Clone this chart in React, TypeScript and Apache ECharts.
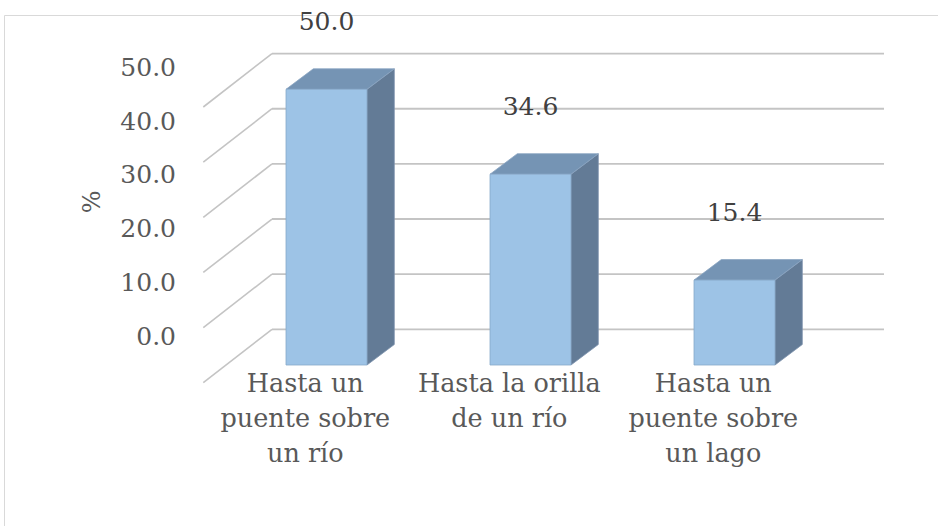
import React, { useEffect, useRef } from "react";
import * as echarts from "echarts";

const categories = [
  "Hasta un\npuente sobre\nun río",
  "Hasta la orilla\nde un río",
  "Hasta un\npuente sobre\nun lago",
];
const values = [50.0, 34.6, 15.4];
const yTicks = [0, 10, 20, 30, 40, 50];

const FONT = "'DejaVu Serif', serif";
// 3D projection offsets (pixels)
const DXB = 47.5; // front plane -> back wall
const DYB = -35.7;
const DXF = -21.2; // front plane -> floor front edge
const DYF = 17.7;
const BDX = 27.3; // bar depth
const BDY = -20.5;

export default function App() {
  const ref = useRef<HTMLDivElement>(null);
  useEffect(() => {
    if (!ref.current) return;
    const chart = echarts.init(ref.current, null, { renderer: "svg" });
    const gridStroke = "#c4c4c4";
    chart.setOption({
      animation: false,
      backgroundColor: "#ffffff",
      textStyle: { fontFamily: FONT },
      graphic: [
        {
          type: "rect",
          z: -10,
          shape: { x: 4.5, y: 15.5, width: 1000, height: 600 },
          style: { fill: "none", stroke: "#d9d9d9", lineWidth: 1 },
        },
      ],
      grid: [
        { left: 224.5, width: 612, top: 89.3, bottom: 161 },
        { left: 184, width: 10, top: 67.5, height: 268.5 },
        { left: 203.3, width: 612, top: 89.3, bottom: 161 },
      ],
      xAxis: [
        {
          gridIndex: 0,
          type: "category",
          data: categories,
          axisLine: { show: false },
          axisTick: { show: false },
          axisLabel: { show: false },
        },
        { gridIndex: 1, type: "value", show: false },
        {
          gridIndex: 2,
          type: "category",
          data: categories,
          axisLine: { show: false },
          axisTick: { show: false },
          axisLabel: {
            interval: 0,
            margin: 0,
            fontFamily: FONT,
            fontSize: 25.5,
            lineHeight: 35,
            color: "#595959",
          },
        },
      ],
      yAxis: [
        {
          gridIndex: 0,
          type: "value",
          min: 0,
          max: 50,
          interval: 10,
          axisLine: { show: false },
          axisTick: { show: false },
          axisLabel: { show: false },
          splitLine: { show: false },
        },
        {
          gridIndex: 1,
          type: "value",
          min: 0,
          max: 50,
          interval: 10,
          name: "%",
          nameLocation: "middle",
          nameRotate: 90,
          nameGap: 80,
          nameTextStyle: { fontFamily: FONT, fontSize: 24, color: "#595959" },
          axisLine: { show: false },
          axisTick: { show: false },
          splitLine: { show: false },
          axisLabel: {
            margin: 8,
            fontFamily: FONT,
            fontSize: 25,
            color: "#595959",
            formatter: (v: number) => v.toFixed(1),
          },
        },
        { gridIndex: 2, type: "value", min: 0, max: 50, show: false },
      ],
      series: [
        {
          type: "custom",
          xAxisIndex: 0,
          yAxisIndex: 0,
          z: 1,
          silent: true,
          data: yTicks.map((t) => [0, t]),
          renderItem: (params: any, api: any) => {
            const cs = params.coordSys;
            const y = api.coord([0, api.value(1)])[1];
            return {
              type: "group",
              children: [
                {
                  type: "line",
                  shape: {
                    x1: cs.x + DXB,
                    y1: y + DYB,
                    x2: cs.x + cs.width + DXB,
                    y2: y + DYB,
                  },
                  style: { stroke: gridStroke, lineWidth: 1.8 },
                },
                {
                  type: "line",
                  shape: {
                    x1: cs.x + DXF,
                    y1: y + DYF,
                    x2: cs.x + DXB,
                    y2: y + DYB,
                  },
                  style: { stroke: gridStroke, lineWidth: 1.6 },
                },
              ],
            };
          },
        },
        {
          type: "custom",
          xAxisIndex: 0,
          yAxisIndex: 0,
          z: 3,
          data: values.map((v, i) => [i, v]),
          renderItem: (params: any, api: any) => {
            const idx = api.value(0);
            const v = api.value(1);
            const top = api.coord([idx, v]);
            const base = api.coord([idx, 0]);
            const w = api.size([1, 0])[0] * 0.397;
            const x0 = top[0] - w / 2;
            const x1 = top[0] + w / 2;
            const yt = top[1];
            const yb = base[1];
            return {
              type: "group",
              children: [
                {
                  type: "polygon",
                  shape: {
                    points: [
                      [x1, yt],
                      [x1 + BDX, yt + BDY],
                      [x1 + BDX, yb + BDY],
                      [x1, yb],
                    ],
                  },
                  style: { fill: "#637b96", stroke: "#7d93ad", lineWidth: 0.8 },
                },
                {
                  type: "polygon",
                  shape: {
                    points: [
                      [x0, yt],
                      [x1, yt],
                      [x1 + BDX, yt + BDY],
                      [x0 + BDX, yt + BDY],
                    ],
                  },
                  style: { fill: "#7594b4", stroke: "#8aa5c2", lineWidth: 0.8 },
                },
                {
                  type: "rect",
                  shape: { x: x0, y: yt, width: w, height: yb - yt },
                  style: { fill: "#9dc3e6", stroke: "#86a8c9", lineWidth: 0.8 },
                },
                {
                  type: "text",
                  x: top[0],
                  y: yt - 68,
                  style: {
                    text: v.toFixed(1),
                    align: "center",
                    verticalAlign: "middle",
                    fontFamily: FONT,
                    fontSize: 25,
                    fill: "#404040",
                  },
                },
              ],
            };
          },
        },
      ],
    });
    return () => chart.dispose();
  }, []);
  return (
    <div
      ref={ref}
      style={{ position: "fixed", left: 0, top: 0, width: 938, height: 526 }}
    />
  );
}
